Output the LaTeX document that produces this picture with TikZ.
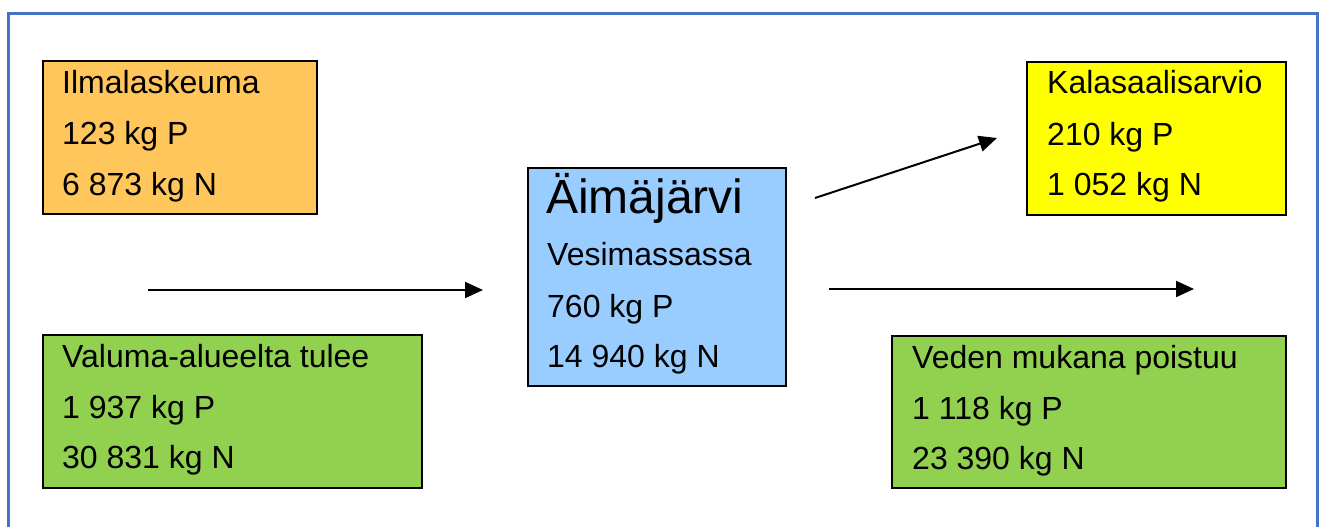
\documentclass[tikz,border=0pt]{standalone}
\usepackage{fontspec}
\setmainfont{Liberation Sans}
\usetikzlibrary{arrows.meta}
\definecolor{frameblue}{HTML}{4472C4}
\definecolor{boxorange}{HTML}{FFC65C}
\definecolor{boxblue}{HTML}{99CCFF}
\definecolor{boxyellow}{HTML}{FFFF00}
\definecolor{boxgreen}{HTML}{92D050}
\tikzset{
  box/.style={draw=black, line width=2pt, anchor=north west, inner sep=0pt},
  lbl/.style={anchor=base west, inner sep=0pt, font=\fontsize{32}{38}\selectfont},
  ttl/.style={anchor=base west, inner sep=0pt, font=\fontsize{48}{56}\selectfont},
  flow/.style={line width=2pt, -{Triangle[length=18pt,width=16pt]}}
}
\begin{document}
\begin{tikzpicture}[x=1pt,y=-1pt]
\useasboundingbox (0,0) rectangle (1322,527);
\fill[white] (0,0) rectangle (1322,527);
% frame
\draw[frameblue, line width=3pt] (8,535) -- (8,14) -- (1317,14) -- (1317,535);
% boxes
\node[box, fill=boxorange, minimum width=274pt, minimum height=153pt] (ilma) at (42,60) {};
\node[box, fill=boxgreen, minimum width=379pt, minimum height=153pt] (valuma) at (42,334) {};
\node[box, fill=boxblue, minimum width=258pt, minimum height=218pt] (aima) at (527,167) {};
\node[box, fill=boxyellow, minimum width=259pt, minimum height=153pt] (kala) at (1026,61) {};
\node[box, fill=boxgreen, minimum width=394pt, minimum height=152pt] (veden) at (891,335) {};
% texts
\node[lbl] (il1) at (62,93) {Ilmalaskeuma};
\node[lbl] (il2) at (62,144) {123 kg P};
\node[lbl] (il3) at (62,195) {6 873 kg N};
\node[lbl] (va1) at (62,367) {Valuma-alueelta tulee};
\node[lbl] (va2) at (62,418) {1 937 kg P};
\node[lbl] (va3) at (62,468) {30 831 kg N};
\node[ttl] (ai1) at (546,213) {Äimäjärvi};
\node[lbl] (ai2) at (547,265) {Vesimassassa};
\node[lbl] (ai3) at (547,317) {760 kg P};
\node[lbl] (ai4) at (547,367) {14 940 kg N};
\node[lbl] (ka1) at (1047,93) {Kalasaalisarvio};
\node[lbl] (ka2) at (1047,145) {210 kg P};
\node[lbl] (ka3) at (1047,195) {1 052 kg N};
\node[lbl] (ve1) at (912,368) {Veden mukana poistuu};
\node[lbl] (ve2) at (912,419) {1 118 kg P};
\node[lbl] (ve3) at (912,469) {23 390 kg N};
% arrows
\coordinate (inS) at (148,290);
\coordinate (inE) at (483,290);
\coordinate (outS) at (829,289);
\coordinate (outE) at (1194,289);
\coordinate (fishS) at (815,198);
\coordinate (fishE) at (997,138);
\draw[flow] (inS) -- (inE);
\draw[flow] (outS) -- (outE);
\draw[flow] (fishS) -- (fishE);
\end{tikzpicture}
\end{document}
